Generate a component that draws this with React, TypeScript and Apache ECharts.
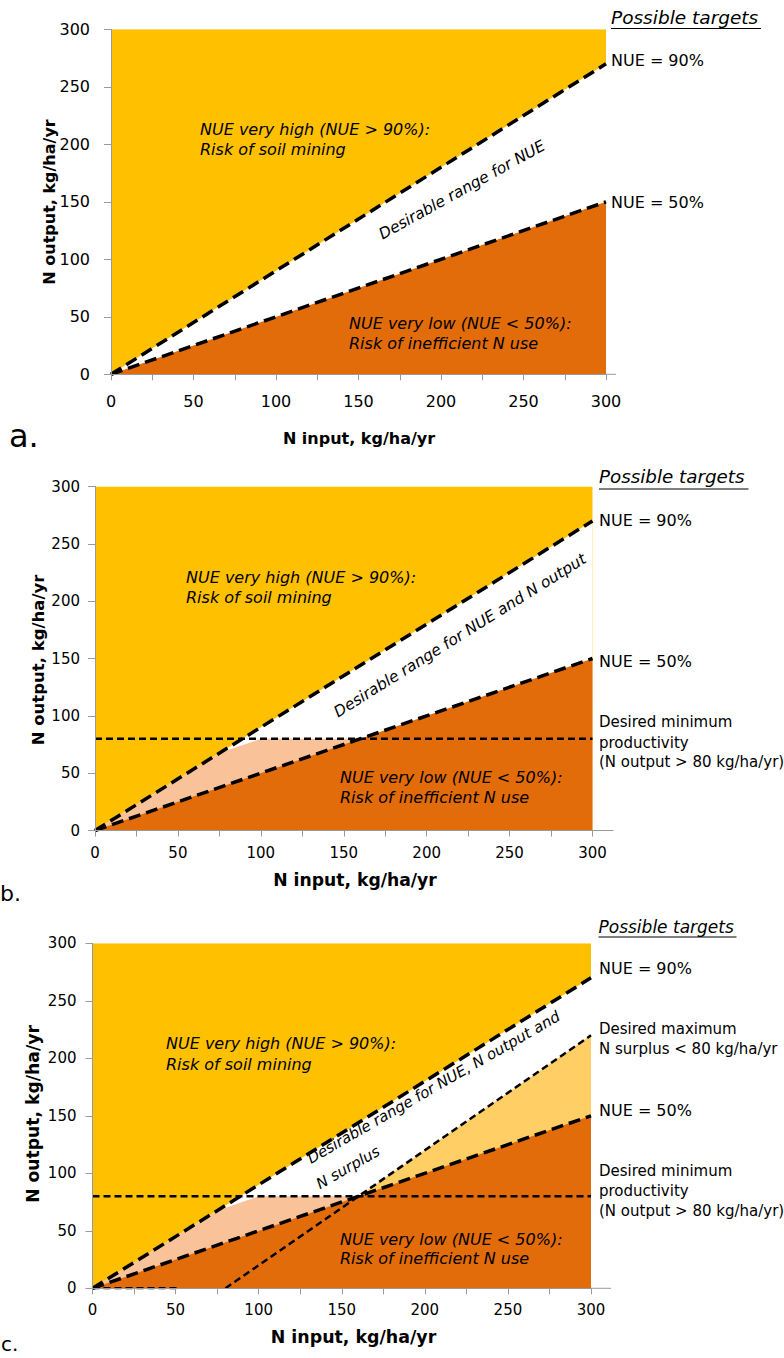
import React, { useEffect, useRef } from "react";
import * as echarts from "echarts";

// ---- data (kg N/ha/yr) ----
const upperBound = [[0, 300], [300, 300]];
const nue90Line = [[0, 0], [300, 270]];
const nue50Line = [[0, 0], [300, 150]];
const minProductivityLine = [[0, 80], [300, 80]];
const maxSurplusLine = [[80, 0], [300, 220]];
const surplusBaseLine = [[0, 0], [52, 0]];
const peachEdge = [[0, 0], [75, 67.5], [100, 80], [160, 80]];
const surplusFillEdge = [[160, 80], [300, 220]];

const xTickStep = 25;
const xLabelStep = 50;
const yTickStep = 50;
const axisMax = 300;

const YELLOW = "#FFC000";
const DARK = "#E36C0A";
const PEACH = "#F9C298";
const LIGHT = "#FFCF66";
const AXIS = "#9A9A9A";
const FONT = "DejaVu Sans";

type Panel = {
  key: string;
  grid: { left: number; top: number; width: number; height: number };
  ext: number;
  tickFont: number;
  yMargin: number;
  xMargin: number;
  showMinProd: boolean;
  showSurplus: boolean;
};

const panels: Panel[] = [
  { key: "a", grid: { left: 111, top: 29.3, width: 495, height: 345 }, ext: 10, tickFont: 16, yMargin: 21, xMargin: 19, showMinProd: false, showSurplus: false },
  { key: "b", grid: { left: 95, top: 486.5, width: 497.5, height: 344 }, ext: 21, tickFont: 15, yMargin: 15, xMargin: 14.5, showMinProd: true, showSurplus: false },
  { key: "c", grid: { left: 92.5, top: 943.3, width: 498.5, height: 345 }, ext: 20, tickFont: 15, yMargin: 16, xMargin: 14.5, showMinProd: true, showSurplus: true },
];

function txt(text: string, x: number, y: number, size: number, opts: any = {}) {
  const align = opts.align || "left";
  return {
    type: "text",
    x,
    y,
    rotation: opts.rotation || 0,
    z: 100,
    silent: true,
    style: {
      text,
      fontSize: size,
      fontFamily: FONT,
      fontStyle: opts.italic ? "italic" : "normal",
      fontWeight: opts.bold ? "bold" : "normal",
      fill: "#000",
      align,
      textAlign: align,
      verticalAlign: "middle",
      textVerticalAlign: "middle",
    },
  };
}

function hline(x1: number, y1: number, x2: number, y2: number, color: string, w = 1) {
  return { type: "line", z: 100, silent: true, shape: { x1, y1, x2, y2 }, style: { stroke: color, lineWidth: w } };
}

const DEG = Math.PI / 180;

export default function App() {
  const ref = useRef<HTMLDivElement>(null);
  useEffect(() => {
    if (!ref.current) return;
    const chart = echarts.init(ref.current, undefined, { renderer: "svg" });

    const grids: any[] = [];
    const xAxes: any[] = [];
    const yAxes: any[] = [];
    const series: any[] = [];

    const area = (i: number, data: number[][], color: string) => ({
      type: "line",
      xAxisIndex: i,
      yAxisIndex: i,
      data,
      symbol: "none",
      silent: true,
      lineStyle: { opacity: 0, width: 0 },
      areaStyle: { color, opacity: 1 },
    });
    const dashed = (i: number, data: number[][], width: number, dash: number[]) => ({
      type: "line",
      xAxisIndex: i,
      yAxisIndex: i,
      data,
      symbol: "none",
      silent: true,
      z: 5,
      lineStyle: { color: "#000", width, type: dash },
    });

    panels.forEach((p, i) => {
      grids.push({ ...p.grid, containLabel: false });
      xAxes.push({
        type: "value",
        gridIndex: i,
        min: 0,
        max: axisMax,
        interval: xTickStep,
        z: 10,
        axisLine: { show: true, lineStyle: { color: AXIS, width: 1 } },
        axisTick: { show: true, length: 6, lineStyle: { color: AXIS } },
        splitLine: { show: false },
        axisLabel: {
          margin: p.xMargin,
          fontSize: p.tickFont,
          fontFamily: FONT,
          color: "#000",
          formatter: (v: number) => (v % xLabelStep === 0 ? String(v) : ""),
        },
      });
      yAxes.push({
        type: "value",
        gridIndex: i,
        min: 0,
        max: axisMax,
        interval: yTickStep,
        z: 10,
        axisLine: { show: true, lineStyle: { color: AXIS, width: 1 } },
        axisTick: { show: true, length: 7, lineStyle: { color: AXIS } },
        splitLine: { show: false },
        axisLabel: { margin: p.yMargin, fontSize: p.tickFont, fontFamily: FONT, color: "#000" },
      });

      series.push(area(i, upperBound, YELLOW));
      series.push(area(i, nue90Line, "#FFFFFF"));
      if (p.showMinProd) series.push(area(i, peachEdge, PEACH));
      if (p.showSurplus) series.push(area(i, surplusFillEdge, LIGHT));
      series.push(area(i, nue50Line, DARK));
      series.push(dashed(i, nue90Line, 3.5, [12, 6]));
      series.push(dashed(i, nue50Line, 3.5, [12, 6]));
      if (p.showMinProd) series.push(dashed(i, minProductivityLine, 2.5, [7, 4]));
      if (p.showSurplus) {
        series.push(dashed(i, maxSurplusLine, 2.5, [7, 4]));
        series.push(dashed(i, surplusBaseLine, 2.5, [7, 4]));
      }
    });

    const g: any[] = [];
    // axis line extensions beyond 300
    panels.forEach((p) => {
      const r = p.grid.left + p.grid.width;
      const b = p.grid.top + p.grid.height;
      g.push(hline(r, b, r + p.ext, b, AXIS, 1));
    });

    // ---- panel a ----
    g.push(txt("Possible targets", 611, 17, 18.5, { italic: true }));
    g.push(hline(611, 28.5, 761, 28.5, "#000", 1));
    g.push(txt("NUE = 90%", 611, 60, 16));
    g.push(txt("NUE = 50%", 611, 202, 16));
    g.push(txt("NUE very high (NUE > 90%):", 200, 129, 16, { italic: true }));
    g.push(txt("Risk of soil mining", 200, 149, 16, { italic: true }));
    g.push(txt("NUE very low (NUE < 50%):", 349, 323, 16, { italic: true }));
    g.push(txt("Risk of inefficient N use", 349, 343, 16, { italic: true }));
    g.push(txt("Desirable range for NUE", 462, 190, 15.5, { italic: true, align: "center", rotation: 29 * DEG }));
    g.push(txt("N input, kg/ha/yr", 359, 438, 16, { bold: true, align: "center" }));
    g.push(txt("N output, kg/ha/yr", 49, 202, 16, { bold: true, align: "center", rotation: 90 * DEG }));
    g.push(txt("a.", 9, 436, 32));

    // ---- panel b ----
    g.push(txt("Possible targets", 599, 476.7, 18.3, { italic: true }));
    g.push(hline(599, 489, 748.5, 489, "#000", 1));
    g.push(txt("NUE = 90%", 599, 520, 16));
    g.push(txt("NUE = 50%", 599, 661, 16));
    g.push(txt("Desired minimum", 599, 721.7, 15));
    g.push(txt("productivity", 599, 742.7, 15));
    g.push(txt("(N output > 80 kg/ha/yr)", 599, 761.7, 15));
    g.push(txt("NUE very high (NUE > 90%):", 186, 577, 16, { italic: true }));
    g.push(txt("Risk of soil mining", 186, 597, 16, { italic: true }));
    g.push(txt("NUE very low (NUE < 50%):", 340, 777.7, 16, { italic: true }));
    g.push(txt("Risk of inefficient N use", 340, 797, 16, { italic: true }));
    g.push(txt("Desirable range for NUE and N output", 460, 635.5, 15.5, { italic: true, align: "center", rotation: 32 * DEG }));
    g.push(txt("N input, kg/ha/yr", 355, 880, 17.2, { bold: true, align: "center" }));
    g.push(txt("N output, kg/ha/yr", 38, 660, 16.5, { bold: true, align: "center", rotation: 90 * DEG }));
    g.push(txt("b.", 0, 893, 22));

    // ---- panel c ----
    g.push(txt("Possible targets", 598.5, 926.7, 17, { italic: true }));
    g.push(hline(598.5, 937, 736.5, 937, "#000", 1));
    g.push(txt("NUE = 90%", 599, 968, 16));
    g.push(txt("Desired maximum", 599, 1029, 15));
    g.push(txt("N surplus < 80 kg/ha/yr", 599, 1049, 15));
    g.push(txt("NUE = 50%", 599, 1110.7, 16));
    g.push(txt("Desired minimum", 599, 1170.7, 15));
    g.push(txt("productivity", 599, 1191, 15));
    g.push(txt("(N output > 80 kg/ha/yr)", 599, 1210.7, 15));
    g.push(txt("NUE very high (NUE > 90%):", 166, 1043.3, 16, { italic: true }));
    g.push(txt("Risk of soil mining", 166, 1064, 16, { italic: true }));
    g.push(txt("NUE very low (NUE < 50%):", 340, 1239, 16, { italic: true }));
    g.push(txt("Risk of inefficient N use", 340, 1258, 16, { italic: true }));
    g.push(txt("Desirable range for NUE, N output and", 433.5, 1087.5, 15, { italic: true, align: "center", rotation: 30 * DEG }));
    g.push(txt("N surplus", 348, 1167.5, 15, { italic: true, align: "center", rotation: 30 * DEG }));
    g.push(txt("N input, kg/ha/yr", 353.5, 1336.7, 17.4, { bold: true, align: "center" }));
    g.push(txt("N output, kg/ha/yr", 33, 1114, 17.2, { bold: true, align: "center", rotation: 90 * DEG }));
    g.push(txt("c.", 1, 1344, 20));

    chart.setOption({
      animation: false,
      backgroundColor: "#fff",
      textStyle: { fontFamily: FONT },
      grid: grids,
      xAxis: xAxes,
      yAxis: yAxes,
      series,
      graphic: { elements: g },
    });

    return () => chart.dispose();
  }, []);

  return <div ref={ref} style={{ position: "absolute", left: 0, top: 0, width: 784, height: 1358 }} />;
}
